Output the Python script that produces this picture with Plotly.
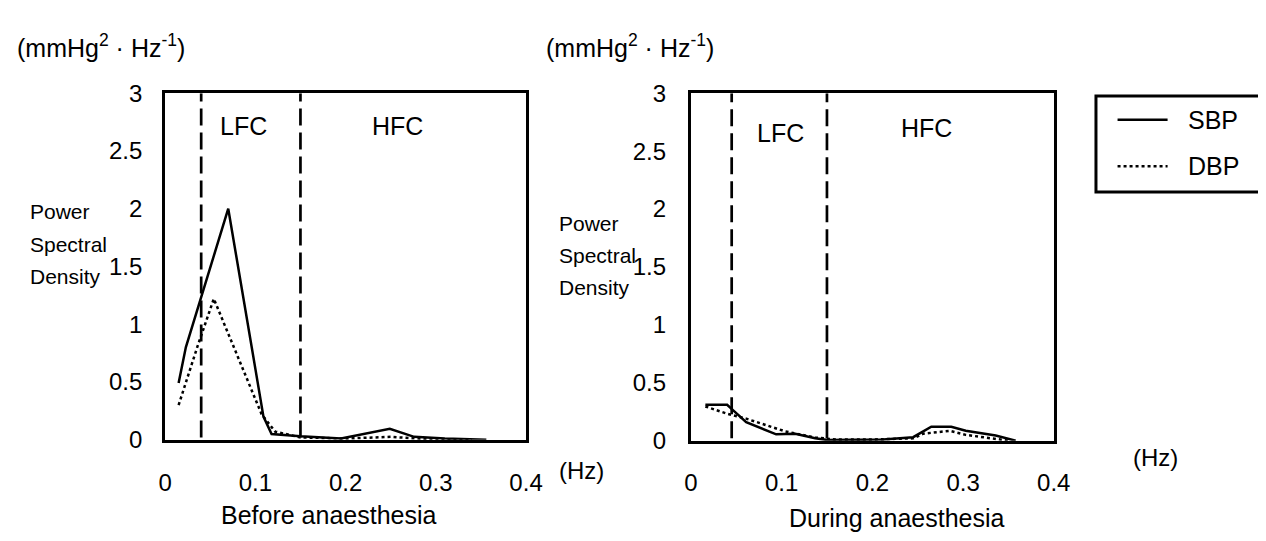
import plotly.graph_objects as go

# ---------------- data ----------------
# Before anaesthesia
before_sbp_x = [0.015, 0.023, 0.070, 0.109, 0.118, 0.150, 0.195, 0.249, 0.276, 0.310, 0.356]
before_sbp_y = [0.49, 0.80, 2.00, 0.20, 0.05, 0.03, 0.01, 0.095, 0.025, 0.01, 0.0]
before_dbp_x = [0.015, 0.036, 0.054, 0.107, 0.122, 0.150, 0.200, 0.250, 0.280, 0.300, 0.340]
before_dbp_y = [0.30, 0.81, 1.22, 0.22, 0.07, 0.02, 0.01, 0.025, 0.01, 0.0, 0.0]

# During anaesthesia
during_sbp_x = [0.016, 0.040, 0.047, 0.061, 0.094, 0.115, 0.137, 0.151, 0.212, 0.245, 0.265, 0.287, 0.303, 0.336, 0.358]
during_sbp_y = [0.31, 0.31, 0.26, 0.16, 0.055, 0.06, 0.02, 0.005, 0.01, 0.03, 0.12, 0.12, 0.085, 0.044, 0.0]
during_dbp_x = [0.016, 0.041, 0.061, 0.080, 0.104, 0.137, 0.160, 0.200, 0.245, 0.256, 0.285, 0.303, 0.339, 0.350]
during_dbp_y = [0.295, 0.23, 0.19, 0.14, 0.08, 0.027, 0.01, 0.01, 0.02, 0.06, 0.085, 0.05, 0.015, 0.0]

# band boundaries (Hz)
before_bands = [0.04, 0.15]
during_bands = [0.045, 0.15]

x_ticks = [0, 0.1, 0.2, 0.3, 0.4]
x_ticktext = ["0", "0.1", "0.2", "0.3", "0.4"]
y_ticks = [0, 0.5, 1, 1.5, 2, 2.5, 3]
y_ticktext = ["0", "0.5", "1", "1.5", "2", "2.5", "3"]

series_names = ["SBP", "DBP"]
panel_titles = ["Before anaesthesia", "During anaesthesia"]

# ---------------- figure ----------------
# the page body has an 8px margin, so the figure is sized to fill the rest
OX, OY = 8, 8
W, H = 1266 - OX, 541 - OY
FONT = "Liberation Sans, Arial, Helvetica, sans-serif"
LW = 2.5      # data lines
BW = 3        # frame lines

def px(x):
    return (x - OX) / W

def py(y):
    return 1 - (y - OY) / H

fig = go.Figure()

traces = [
    (before_sbp_x, before_sbp_y, "x", "y", series_names[0], "solid"),
    (before_dbp_x, before_dbp_y, "x", "y", series_names[1], "dot"),
    (during_sbp_x, during_sbp_y, "x2", "y2", series_names[0], "solid"),
    (during_dbp_x, during_dbp_y, "x2", "y2", series_names[1], "dot"),
]
for xs, ys, xa, ya, name, dash in traces:
    fig.add_trace(go.Scatter(
        x=xs, y=ys, xaxis=xa, yaxis=ya, mode="lines", name=name,
        showlegend=False,
        line=dict(color="black", width=LW, dash=dash),
    ))

axis_common = dict(
    showline=True, mirror=True, linecolor="black", linewidth=BW,
    showgrid=False, zeroline=False, ticks="",
    tickfont=dict(family=FONT, size=24, color="black"),
)

fig.update_layout(
    width=W, height=H,
    margin=dict(l=0, r=0, t=0, b=0),
    paper_bgcolor="white", plot_bgcolor="white",
    font=dict(family=FONT, color="black"),
    xaxis=dict(domain=[px(161), px(529)], range=[0, 0.4], anchor="y",
               tickvals=x_ticks, ticktext=x_ticktext, ticklabelstandoff=19, **axis_common),
    yaxis=dict(domain=[py(448), py(83)], range=[0, 3], anchor="x",
               tickvals=y_ticks, ticktext=y_ticktext, ticklabelstandoff=15, **axis_common),
    xaxis2=dict(domain=[px(697), px(1067)], range=[0, 0.4], anchor="y2",
                tickvals=x_ticks, ticktext=x_ticktext, ticklabelstandoff=19, **axis_common),
    yaxis2=dict(domain=[py(449), py(83)], range=[0, 3], anchor="x2",
                tickvals=y_ticks, ticktext=y_ticktext, ticklabelstandoff=17, **axis_common),
    showlegend=False,
)

# band boundary dashed lines
for bands, xr, yr in [(before_bands, "x", "y"), (during_bands, "x2", "y2")]:
    for b in bands:
        fig.add_shape(type="line", xref=xr, yref=yr, x0=b, x1=b, y0=0.02, y1=3,
                      line=dict(color="black", width=2.7, dash="17px,7px"))

ann = []
def text(x, y, t, size=24, xanchor="center", yanchor="middle"):
    ann.append(dict(x=px(x), y=py(y), xref="paper", yref="paper", text=t, showarrow=False,
                    xanchor=xanchor, yanchor=yanchor,
                    font=dict(family=FONT, size=size, color="black")))

# legend box (drawn by hand to match the key's proportions)
fig.add_shape(type="rect", xref="paper", yref="paper",
              x0=px(1110), x1=px(1280), y0=py(187), y1=py(86),
              line=dict(color="black", width=BW), fillcolor="white")
for name, dash, yy in [(series_names[0], "solid", 111), (series_names[1], "dot", 160)]:
    fig.add_shape(type="line", xref="paper", yref="paper",
                  x0=px(1132), x1=px(1183), y0=py(yy), y1=py(yy),
                  line=dict(color="black", width=LW, dash=dash))
    text(1202, yy, name, size=25, xanchor="left")

unit = "(mmHg<sup>2</sup> · Hz<sup>-1</sup>)"
text(8, 33, unit, size=25, xanchor="left")
text(547, 33, unit, size=25, xanchor="left")

for i, w in enumerate(["Power", "Spectral", "Density"]):
    text(21, 208 + i * 34, w, size=21, xanchor="left")
    text(561, 220 + i * 34, w, size=21, xanchor="left")

text(241, 118, "LFC", size=25)
text(398, 118, "HFC", size=25)
text(788, 125, "LFC", size=25)
text(937, 120, "HFC", size=25)

text(561, 480, "(Hz)", size=24, xanchor="left")
text(1146, 467, "(Hz)", size=24, xanchor="left")

text(328, 527, panel_titles[0], size=25)
text(907, 530, panel_titles[1], size=25)

fig.update_layout(annotations=ann)

fig.write_html("out.html")
